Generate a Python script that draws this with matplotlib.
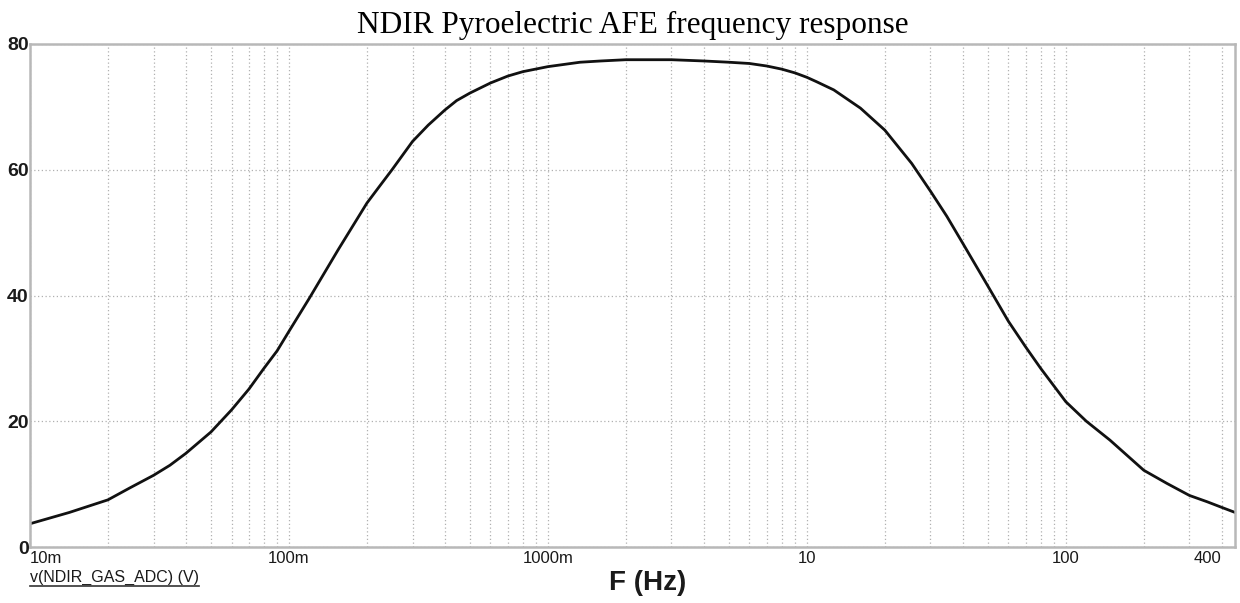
import matplotlib
matplotlib.use('Agg')
import matplotlib.pyplot as plt
from matplotlib.ticker import LogLocator, NullFormatter

# valores
freq = [0.01, 0.0142, 0.02, 0.0243, 0.03, 0.0347, 0.04, 0.05, 0.06, 0.07, 0.08, 0.09,
        0.1, 0.12, 0.155, 0.2, 0.224, 0.25, 0.3, 0.345, 0.4, 0.444, 0.5, 0.6, 0.7,
        0.8, 1.0, 1.33, 1.6, 2, 3, 4, 5, 6, 7, 8, 9, 10, 10.9, 12.7, 16.1,
        20, 25.4, 30, 34.7, 40, 50, 60, 70, 80, 90, 100, 120, 148,
        200, 246, 300, 351, 400, 450]
volts = [3.7, 5.5, 7.5, 9.4, 11.4, 13.0, 14.9, 18.3, 21.8, 25.1, 28.4, 31.2,
         34.3, 39.6, 47.3, 54.7, 57.4, 60.0, 64.5, 67.1, 69.5, 71.0, 72.2, 73.8, 74.9,
         75.6, 76.4, 77.1, 77.3, 77.5, 77.5, 77.3, 77.1, 76.9, 76.5, 76.0, 75.4, 74.7, 74.0, 72.7, 69.8,
         66.3, 61.0, 56.6, 52.6, 48.3, 41.5, 35.9, 31.8, 28.4, 25.6, 23.1, 20.0, 17.0,
         12.2, 10.1, 8.2, 7.2, 6.3, 5.5]

xticks = [0.01, 0.1, 1, 10, 100, 400]
xlabels = ['10m', '100m', '1000m', '10', '100', '400']
yticks = [0, 20, 40, 60, 80]

fig = plt.figure(figsize=(12.4, 6.03), dpi=100)
ax = fig.add_axes([30/1240, 1-547/603, 1205/1240, 503/603])

ax.plot(freq, volts, color='#111111', lw=2, solid_joinstyle='round')
ax.set_xscale('log')
ax.set_xlim(0.01, 450)
ax.set_ylim(0, 80)

# rejilla punteada (mayor y menor)
ax.xaxis.set_major_locator(LogLocator(base=10, numticks=10))
ax.xaxis.set_minor_locator(LogLocator(base=10, subs=range(2, 10), numticks=20))
ax.xaxis.set_minor_formatter(NullFormatter())
ax.set_yticks(yticks)
ax.grid(True, which='both', axis='x', ls=(0, (1, 2)), color='#b0b0b0', lw=0.9)
ax.grid(True, which='major', axis='y', ls=(0, (1, 2)), color='#b0b0b0', lw=0.9)
ax.tick_params(which='both', length=0)
ax.xaxis.set_major_formatter(NullFormatter())
for s in ax.spines.values():
    s.set_color('#b8b8b8')
    s.set_linewidth(1.8)

# etiquetas de los ejes
ax.set_yticklabels([str(v) for v in yticks], fontsize=14, fontweight='bold',
                   color='#1a1a1a', family='Liberation Sans')
ax.tick_params(axis='y', pad=1)
for xv, lab in zip(xticks, xlabels):
    ha = 'center'
    if xv == xticks[0]:
        ha = 'left'
    elif xv == xticks[-1]:
        ha = 'right'
    ax.text(xv, -0.6, lab, ha=ha, va='top', fontsize=12, color='#1a1a1a',
            family='Liberation Sans')

ax.set_title('NDIR Pyroelectric AFE frequency response', family='Liberation Serif',
             fontsize=22.5, pad=8)

fig.text(0.522, 0.033, 'F (Hz)', ha='center', va='center', fontsize=20,
         fontweight='bold', color='#1a1a1a', family='Liberation Sans')
t = fig.text(30/1240, 1-577/603, 'v(NDIR_GAS_ADC) (V)', ha='left', va='center',
             fontsize=11.5, color='#1a1a1a', family='Liberation Sans')

# subrayado de la etiqueta
fig.canvas.draw()
bb = t.get_window_extent().transformed(fig.transFigure.inverted())
fig.add_artist(plt.Line2D([bb.x0, bb.x1], [bb.y0 - 0.002, bb.y0 - 0.002],
                          color='#333333', lw=1.2, transform=fig.transFigure))

fig.savefig('out.png', dpi=100)
